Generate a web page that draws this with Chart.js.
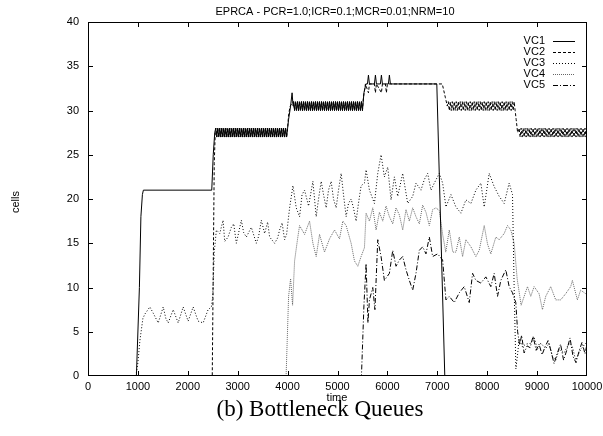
<!DOCTYPE html>
<html>
<head>
<meta charset="utf-8">
<script src="https://cdn.jsdelivr.net/npm/chart.js@4"></script>
<style>
  html, body { margin: 0; padding: 0; background: #fff; }
</style>
</head>
<body>
<canvas id="queueChart" width="603" height="436"></canvas>
<script>
// axis ticks
const xTickValues = [0, 1000, 2000, 3000, 4000, 5000, 6000, 7000, 8000, 9000, 10000];
const yTickValues = [0, 5, 10, 15, 20, 25, 30, 35, 40];
const seriesNames = ['VC1', 'VC2', 'VC3', 'VC4', 'VC5'];

// queue oscillating between 27 and 28 cells (VC1 + VC2, 2500-4000)
const band28 = [[2560,28],[2580,27],[2600,28],[2620,27],[2640,28],[2660,27],[2680,28],[2700,27],[2720,28],[2740,27],
  [2760,28],[2780,27],[2800,28],[2820,27],[2840,28],[2860,27],[2880,28],[2900,27],[2920,28],[2940,27],
  [2960,28],[2980,27],[3000,28],[3020,27],[3040,28],[3060,27],[3080,28],[3100,27],[3120,28],[3140,27],
  [3160,28],[3180,27],[3200,28],[3220,27],[3240,28],[3260,27],[3280,28],[3300,27],[3320,28],[3340,27],
  [3360,28],[3380,27],[3400,28],[3420,27],[3440,28],[3460,27],[3480,28],[3500,27],[3520,28],[3540,27],
  [3560,28],[3580,27],[3600,28],[3620,27],[3640,28],[3660,27],[3680,28],[3700,27],[3720,28],[3740,27],
  [3760,28],[3780,27],[3800,28],[3820,27],[3840,28],[3860,27],[3880,28],[3900,27],[3920,28],[3940,27],
  [3960,28],[3980,27],[4000,28]];

// queue oscillating between 30 and 31 cells (VC1 + VC2, 4100-5500)
const band31 = [[4120,31],[4140,30],[4160,31],[4180,30],[4200,31],[4220,30],[4240,31],[4260,30],[4280,31],[4300,30],
  [4320,31],[4340,30],[4360,31],[4380,30],[4400,31],[4420,30],[4440,31],[4460,30],[4480,31],[4500,30],
  [4520,31],[4540,30],[4560,31],[4580,30],[4600,31],[4620,30],[4640,31],[4660,30],[4680,31],[4700,30],
  [4720,31],[4740,30],[4760,31],[4780,30],[4800,31],[4820,30],[4840,31],[4860,30],[4880,31],[4900,30],
  [4920,31],[4940,30],[4960,31],[4980,30],[5000,31],[5020,30],[5040,31],[5060,30],[5080,31],[5100,30],
  [5120,31],[5140,30],[5160,31],[5180,30],[5200,31],[5220,30],[5240,31],[5260,30],[5280,31],[5300,30],
  [5320,31],[5340,30],[5360,31],[5380,30],[5400,31],[5420,30],[5440,31],[5460,30],[5480,31],[5500,30]];

// VC2 alone after VC1 leaves
const vc2Band31 = [[7220,31],[7240,30],[7260,31],[7280,30],[7300,31],[7320,30],[7340,31],[7360,30],[7380,31],[7400,30],
  [7420,31],[7440,30],[7460,31],[7480,30],[7500,31],[7520,30],[7540,31],[7560,30],[7580,31],[7600,30],
  [7620,31],[7640,30],[7660,31],[7680,30],[7700,31],[7720,30],[7740,31],[7760,30],[7780,31],[7800,30],
  [7820,31],[7840,30],[7860,31],[7880,30],[7900,31],[7920,30],[7940,31],[7960,30],[7980,31],[8000,30],
  [8020,31],[8040,30],[8060,31],[8080,30],[8100,31],[8120,30],[8140,31],[8160,30],[8180,31],[8200,30],
  [8220,31],[8240,30],[8260,31],[8280,30],[8300,31],[8320,30],[8340,31],[8360,30],[8380,31],[8400,30],
  [8420,31],[8440,30],[8460,31],[8480,30],[8500,31],[8520,30],[8540,31],[8560,30]];

const vc2Band28 = [[8640,28],[8660,27],[8680,28],[8700,27],[8720,28],[8740,27],[8760,28],[8780,27],[8800,28],[8820,27],
  [8840,28],[8860,27],[8880,28],[8900,27],[8920,28],[8940,27],[8960,28],[8980,27],[9000,28],[9020,27],
  [9040,28],[9060,27],[9080,28],[9100,27],[9120,28],[9140,27],[9160,28],[9180,27],[9200,28],[9220,27],
  [9240,28],[9260,27],[9280,28],[9300,27],[9320,28],[9340,27],[9360,28],[9380,27],[9400,28],[9420,27],
  [9440,28],[9460,27],[9480,28],[9500,27],[9520,28],[9540,27],[9560,28],[9580,27],[9600,28],[9620,27],
  [9640,28],[9660,27],[9680,28],[9700,27],[9720,28],[9740,27],[9760,28],[9780,27],[9800,28],[9820,27],
  [9840,28],[9860,27],[9880,28],[9900,27],[9920,28],[9940,27],[9960,28],[9980,27],[10000,28]];

const vc1 = [[0,0],[970,0],[1030,10],[1060,18],[1090,20.5],[1110,21],[2480,21],[2510,25],[2540,27.5],
  ...band28,
  [4020,29],[4060,30.5],[4090,32],[4110,30.5],
  ...band31,
  [5530,32],[5570,33],[5600,33],[5620,34],[5640,33],[5740,33],[5760,34],[5780,33],[5860,33],[5880,34],
  [5900,33],[6020,33],[6040,34],[6060,33],[6990,33],[7150,0],[10000,0]];

const vc2 = [[0,0],[2490,0],[2510,12],[2530,24],[2550,27.5],
  ...band28,
  [4020,29.5],[4050,30.5],
  ...band31,
  [5520,31.5],[5560,33],[5620,32],[5640,33],[5740,33],[5760,32],[5780,33],[5880,32],[5900,33],[5960,33],
  [5980,32],[6000,33],[7100,33],[7160,31.5],[7200,30.5],
  ...vc2Band31,
  [8580,29],[8610,27.5],
  ...vc2Band28];

const vc3 = [[0,0],[960,0],[1000,1.5],[1040,4],[1100,6.5],[1140,7],[1240,7.8],[1307,7.1],[1407,6],[1507,7.8],
  [1560,6.5],[1607,6],[1707,7.5],[1807,6],[1907,7.8],[2007,6.2],[2107,7.8],[2207,6.2],[2307,6],[2407,7.5],
  [2473,7.8],[2500,9],[2530,14],[2573,16.5],[2640,16.1],[2707,17.6],[2740,15.2],[2807,15.7],[2873,16.8],
  [2920,17.2],[2973,15],[3073,17.6],[3120,16.2],[3173,15.7],[3273,16.8],[3373,15],[3420,15.8],[3473,17.6],
  [3540,16.1],[3600,17.4],[3640,15.7],[3740,15],[3800,15.6],[3840,16.5],[3890,17.3],[3940,15.4],[3980,16],
  [4040,19],[4107,21.5],[4173,19],[4240,18],[4290,20.5],[4340,21],[4420,19.2],[4507,22],[4573,18],[4620,20],
  [4673,22],[4720,20.5],[4773,19],[4820,21],[4873,22],[4920,20],[4973,19],[5020,21],[5073,22.9],[5120,20.5],
  [5173,18],[5220,19.5],[5273,20],[5320,19],[5373,17.5],[5420,19.5],[5473,21.5],[5540,21.8],[5573,23.3],
  [5640,21],[5740,19.5],[5807,22.9],[5873,25],[5940,22.5],[6007,23.6],[6073,19.9],[6140,22.5],[6207,20.3],
  [6307,22.9],[6407,19.5],[6507,20.3],[6573,21.8],[6673,21],[6740,22.2],[6807,22.9],[6873,21],[6940,21.8],
  [7040,22.9],[7107,21.8],[7173,19.1],[7273,20.5],[7373,19.1],[7473,18.4],[7573,19.9],[7673,19.5],[7773,21],
  [7873,21.8],[7940,19.1],[8040,22.9],[8140,21.4],[8240,20.3],[8340,19.5],[8440,21.8],[8507,20.5],[8540,10],
  [8575,0.8],[8610,2.5],[8640,4.2],[8707,3.3],[8773,3.6],[8873,3.7],[8940,4.4],[9007,3],[9073,3.7],[9173,3.1],
  [9240,3.7],[9307,2.2],[9373,1.8],[9440,3],[9540,2.6],[9640,3.7],[9707,3.3],[9773,1.8],[9873,3],[9973,3.7],
  [10000,3.5]];

const vc4 = [[0,0],[3970,0],[4020,9],[4060,11],[4100,8],[4140,13],[4200,15.5],[4240,17],[4340,16],[4440,17.5],
  [4507,15],[4573,13.5],[4640,16],[4740,14],[4840,15.5],[4940,16.5],[5040,15.5],[5107,17.5],[5173,17],
  [5273,15],[5340,13],[5407,12.4],[5473,13.5],[5540,14.5],[5573,18.4],[5640,17.5],[5707,19],[5773,16.5],
  [5840,18.5],[5907,17.5],[5973,19.2],[6040,18],[6107,17.2],[6173,19],[6240,18.2],[6307,16.5],[6373,18.8],
  [6440,17.5],[6507,19],[6573,18],[6640,17.2],[6707,19.3],[6773,18.5],[6840,17],[6907,18.8],[6973,19],
  [7040,18.7],[7107,16],[7170,14],[7240,16.5],[7310,14],[7373,14],[7440,15.7],[7507,13.5],[7573,15.4],
  [7673,14.6],[7773,13.5],[7840,14.2],[7940,17],[8007,14.9],[8073,13.8],[8173,15.7],[8240,15.4],[8340,16.1],
  [8407,17],[8473,16.5],[8540,15],[8600,11],[8640,9.5],[8680,8],[8807,10.1],[8873,9],[8940,10.1],[9040,9.3],
  [9107,7.5],[9173,9],[9273,10.1],[9373,8.6],[9473,8.6],[9573,9.3],[9673,10.1],[9707,10.8],[9807,8.6],
  [9873,9.7],[9973,9.3],[10000,9.5]];

const vc5 = [[0,0],[5480,0],[5530,8],[5573,12.7],[5610,6],[5640,8.6],[5707,10],[5750,7.5],[5807,15.4],
  [5873,13.5],[5940,10.8],[6040,11.6],[6107,14.2],[6173,12.4],[6240,13.1],[6307,13.5],[6373,12],[6440,10.8],
  [6507,9.7],[6573,11.6],[6640,14.2],[6707,14.6],[6773,13.8],[6840,15.7],[6907,13.5],[7007,13.8],[7107,13.1],
  [7173,8.6],[7240,9],[7340,8.3],[7440,9.4],[7540,10.1],[7640,8.3],[7707,11.6],[7773,10.8],[7873,10.5],
  [7973,11.2],[8073,10.1],[8140,11.6],[8207,9],[8273,10.8],[8373,12],[8440,10.1],[8507,9.4],[8573,8.3],
  [8610,5],[8650,3.5],[8690,4.6],[8740,2.6],[8800,3.4],[8860,3.2],[8920,4.5],[8980,2.9],[9040,3.6],[9100,2.4],
  [9160,3.3],[9220,4],[9280,2.8],[9340,1.4],[9400,2.5],[9470,3.6],[9530,1.8],[9600,3],[9660,4.3],[9720,2.2],
  [9780,1.5],[9840,2.8],[9900,3.8],[9960,2.5],[10000,3.6]];

const seriesData = [vc1, vc2, vc3, vc4, vc5];
const lineColors = ['#000', '#000', '#000', '#666', '#000'];
const lineDashes = [[], [3, 2], [1, 2], [1, 1], [5, 2, 1, 2]];

const font = 'Liberation Sans, Arial, Helvetica, sans-serif';

// gnuplot look: boxed frame, inward ticks, legend inside, labels
const gnuplotFrame = {
    id: 'gnuplotFrame',
    afterDatasetsDraw(chart) {
        const { ctx, chartArea: a, scales: { x, y } } = chart;
        ctx.save();
        ctx.strokeStyle = '#000';
        ctx.lineWidth = 1;
        ctx.setLineDash([]);
        ctx.strokeRect(a.left + 0.5, a.top + 0.5, a.right - a.left - 1, a.bottom - a.top - 1);

        ctx.beginPath();
        xTickValues.slice(1, -1).forEach(v => {
            const px = Math.round(x.getPixelForValue(v)) + 0.5;
            ctx.moveTo(px, a.bottom); ctx.lineTo(px, a.bottom - 5);
            ctx.moveTo(px, a.top); ctx.lineTo(px, a.top + 5);
        });
        yTickValues.slice(1, -1).forEach(v => {
            const py = Math.round(y.getPixelForValue(v)) + 0.5;
            ctx.moveTo(a.left, py); ctx.lineTo(a.left + 5, py);
            ctx.moveTo(a.right, py); ctx.lineTo(a.right - 5, py);
        });
        ctx.stroke();

        // legend
        ctx.font = '11px ' + font;
        ctx.fillStyle = '#000';
        ctx.textAlign = 'right';
        ctx.textBaseline = 'middle';
        chart.data.datasets.forEach((ds, i) => {
            const ly = 41 + i * 11;
            ctx.fillText(ds.label, a.right - 42, ly);
            ctx.strokeStyle = ds.borderColor;
            ctx.setLineDash(ds.borderDash);
            ctx.beginPath();
            ctx.moveTo(a.right - 34, ly + 0.5);
            ctx.lineTo(a.right - 12, ly + 0.5);
            ctx.stroke();
        });
        ctx.setLineDash([]);

        // titles
        ctx.textAlign = 'center';
        ctx.fillText('EPRCA - PCR=1.0;ICR=0.1;MCR=0.01;NRM=10', 335, 12);
        ctx.fillText('time', 337, 398);
        ctx.save();
        ctx.translate(16, 202);
        ctx.rotate(-Math.PI / 2);
        ctx.fillText('cells', 0, 0);
        ctx.restore();

        ctx.font = '23px Liberation Serif, Times New Roman, serif';
        ctx.textBaseline = 'alphabetic';
        ctx.fillText('(b) Bottleneck Queues', 320, 416);
        ctx.restore();
    }
};

const ctx = document.getElementById('queueChart').getContext('2d');
new Chart(ctx, {
    type: 'line',
    data: {
        datasets: seriesNames.map((name, i) => ({
            label: name,
            data: seriesData[i].map(p => ({ x: p[0], y: p[1] })),
            borderColor: lineColors[i],
            borderDash: lineDashes[i],
            borderWidth: 1,
            pointRadius: 0,
            tension: 0,
            fill: false
        }))
    },
    options: {
        responsive: false,
        animation: false,
        devicePixelRatio: 1,
        layout: { padding: { top: 22, right: 16, bottom: 0, left: 0 } },
        plugins: {
            legend: { display: false },
            tooltip: { enabled: false }
        },
        scales: {
            x: {
                type: 'linear',
                min: 0,
                max: 10000,
                afterBuildTicks: s => { s.ticks = xTickValues.map(v => ({ value: v })); },
                afterFit: s => { s.height = 60; s.paddingLeft = 0; s.paddingRight = 0; },
                grid: { display: false, drawTicks: false },
                border: { display: false },
                ticks: {
                    padding: 4, maxRotation: 0, autoSkip: false, color: '#000',
                    font: { family: font, size: 11 },
                    callback: v => String(v)
                }
            },
            y: {
                min: 0,
                max: 40,
                afterBuildTicks: s => { s.ticks = yTickValues.map(v => ({ value: v })); },
                afterFit: s => { s.width = 88; s.paddingTop = 0; s.paddingBottom = 0; },
                grid: { display: false, drawTicks: false },
                border: { display: false },
                ticks: {
                    padding: 9, color: '#000',
                    font: { family: font, size: 11 },
                    callback: v => String(v)
                }
            }
        }
    },
    plugins: [gnuplotFrame]
});
</script>
</body>
</html>
